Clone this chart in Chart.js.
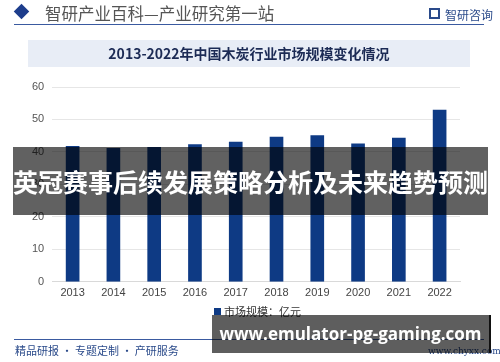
<!DOCTYPE html>
<html>
<head>
<meta charset="utf-8">
<script src="https://cdn.jsdelivr.net/npm/chart.js@4/dist/chart.umd.min.js"></script>
<style>
  html, body { margin: 0; padding: 0; background: #fff; }
  #wrap { position: relative; width: 500px; height: 362px; overflow: hidden; font-family: "Noto Sans CJK SC", "Noto Sans", sans-serif; }
  #chart { position: absolute; left: 0; top: 0; }
  .abs { position: absolute; white-space: nowrap; }
  #diamond { left: 16px; top: 6px; width: 11px; height: 11px; background: #1d3d8c; transform: rotate(45deg); }
  #head { left: 45px; top: 1px; font-size: 16.5px; color: #555; }
  #logo { left: 445px; top: 6px; font-size: 12px; color: #2a4a8a; }
  #logoIcon { left: 429px; top: 8px; width: 11px; height: 11px; border: 2px solid #2a4a8a; box-sizing: border-box; }
  #headLine { left: 14px; top: 24px; width: 470px; height: 1px; background: #3a5aa0; }
  #titleBox { left: 28px; top: 40px; width: 442px; height: 27px; background: #e8edf6; text-align: center; line-height: 27px; font-size: 14px; font-weight: bold; color: #1c2b55; }
  #legend { left: 214px; top: 303px; font-size: 11px; color: #333; }
  #legend i { display: inline-block; width: 7px; height: 7px; background: #0e3a84; margin-right: 3px; vertical-align: 1px; }
  #footLine { left: 14px; top: 339px; width: 470px; height: 1px; background: #3a5aa0; }
  #foot { left: 15px; top: 342px; font-size: 11px; color: #2a4a8a; }
  #site { left: 428px; top: 346px; font-size: 9px; color: #2a4a8a; font-family: "DejaVu Serif", serif; }
  #banner { left: 13px; top: 147px; width: 475px; height: 68px; background: rgba(0,0,0,0.62); color: #fff; font-weight: bold; font-size: 25px; text-align: center; line-height: 68px; }
  #banner2 { left: 212px; top: 315px; width: 277px; height: 38px; background: rgba(0,0,0,0.63); border-right: 2px solid #111; color: #fff; font-weight: bold; font-size: 17px; text-align: center; line-height: 38px; font-family: "Open Sans", "DejaVu Sans", sans-serif; }
</style>
</head>
<body>
<div id="wrap">
  <canvas id="chart" width="500" height="362"></canvas>
  <div class="abs" id="diamond"></div>
  <div class="abs" id="head">智研产业百科—产业研究第一站</div>
  <div class="abs" id="logoIcon"></div>
  <div class="abs" id="logo">智研咨询</div>
  <div class="abs" id="headLine"></div>
  <div class="abs" id="titleBox">2013-2022年中国木炭行业市场规模变化情况</div>
  <div class="abs" id="legend"><i></i><span id="legendText"></span></div>
  <div class="abs" id="footLine"></div>
  <div class="abs" id="foot">精品研报 · 专题定制 · 产研服务</div>
  <div class="abs" id="site">www.chyxx.com</div>
  <div class="abs" id="banner">英冠赛事后续发展策略分析及未来趋势预测</div>
  <div class="abs" id="banner2">www.emulator-pg-gaming.com</div>
</div>
<script>
var years = ["2013", "2014", "2015", "2016", "2017", "2018", "2019", "2020", "2021", "2022"];
var marketSize = [41.7, 41.1, 41.4, 42.3, 43.0, 44.6, 45.0, 42.5, 44.3, 52.9];
var seriesName = "市场规模：亿元";

document.getElementById("legendText").textContent = seriesName;

var ctx = document.getElementById("chart").getContext('2d');
var myBarChart = new Chart(ctx, {
    type: 'bar',
    data: {
        labels: years,
        datasets: [{
            label: seriesName,
            data: marketSize,
            backgroundColor: '#0e3a84',
            borderWidth: 0,
            barThickness: 13
        }]
    },
    options: {
        responsive: false,
        animation: false,
        layout: {
            padding: { left: 24, right: 40, top: 87, bottom: 65 }
        },
        plugins: {
            legend: { display: false },
            tooltip: { enabled: false }
        },
        scales: {
            x: {
                grid: { display: false },
                border: { color: '#d9d9d9' },
                ticks: { color: '#444', font: { size: 11, family: 'Liberation Sans' }, padding: -3 }
            },
            y: {
                min: 0,
                max: 60,
                ticks: { stepSize: 10, color: '#555', font: { size: 11, family: 'Liberation Sans' }, padding: 8 },
                grid: { color: '#e6e6e6', drawTicks: false },
                border: { display: false }
            }
        }
    }
});
</script>
</body>
</html>
